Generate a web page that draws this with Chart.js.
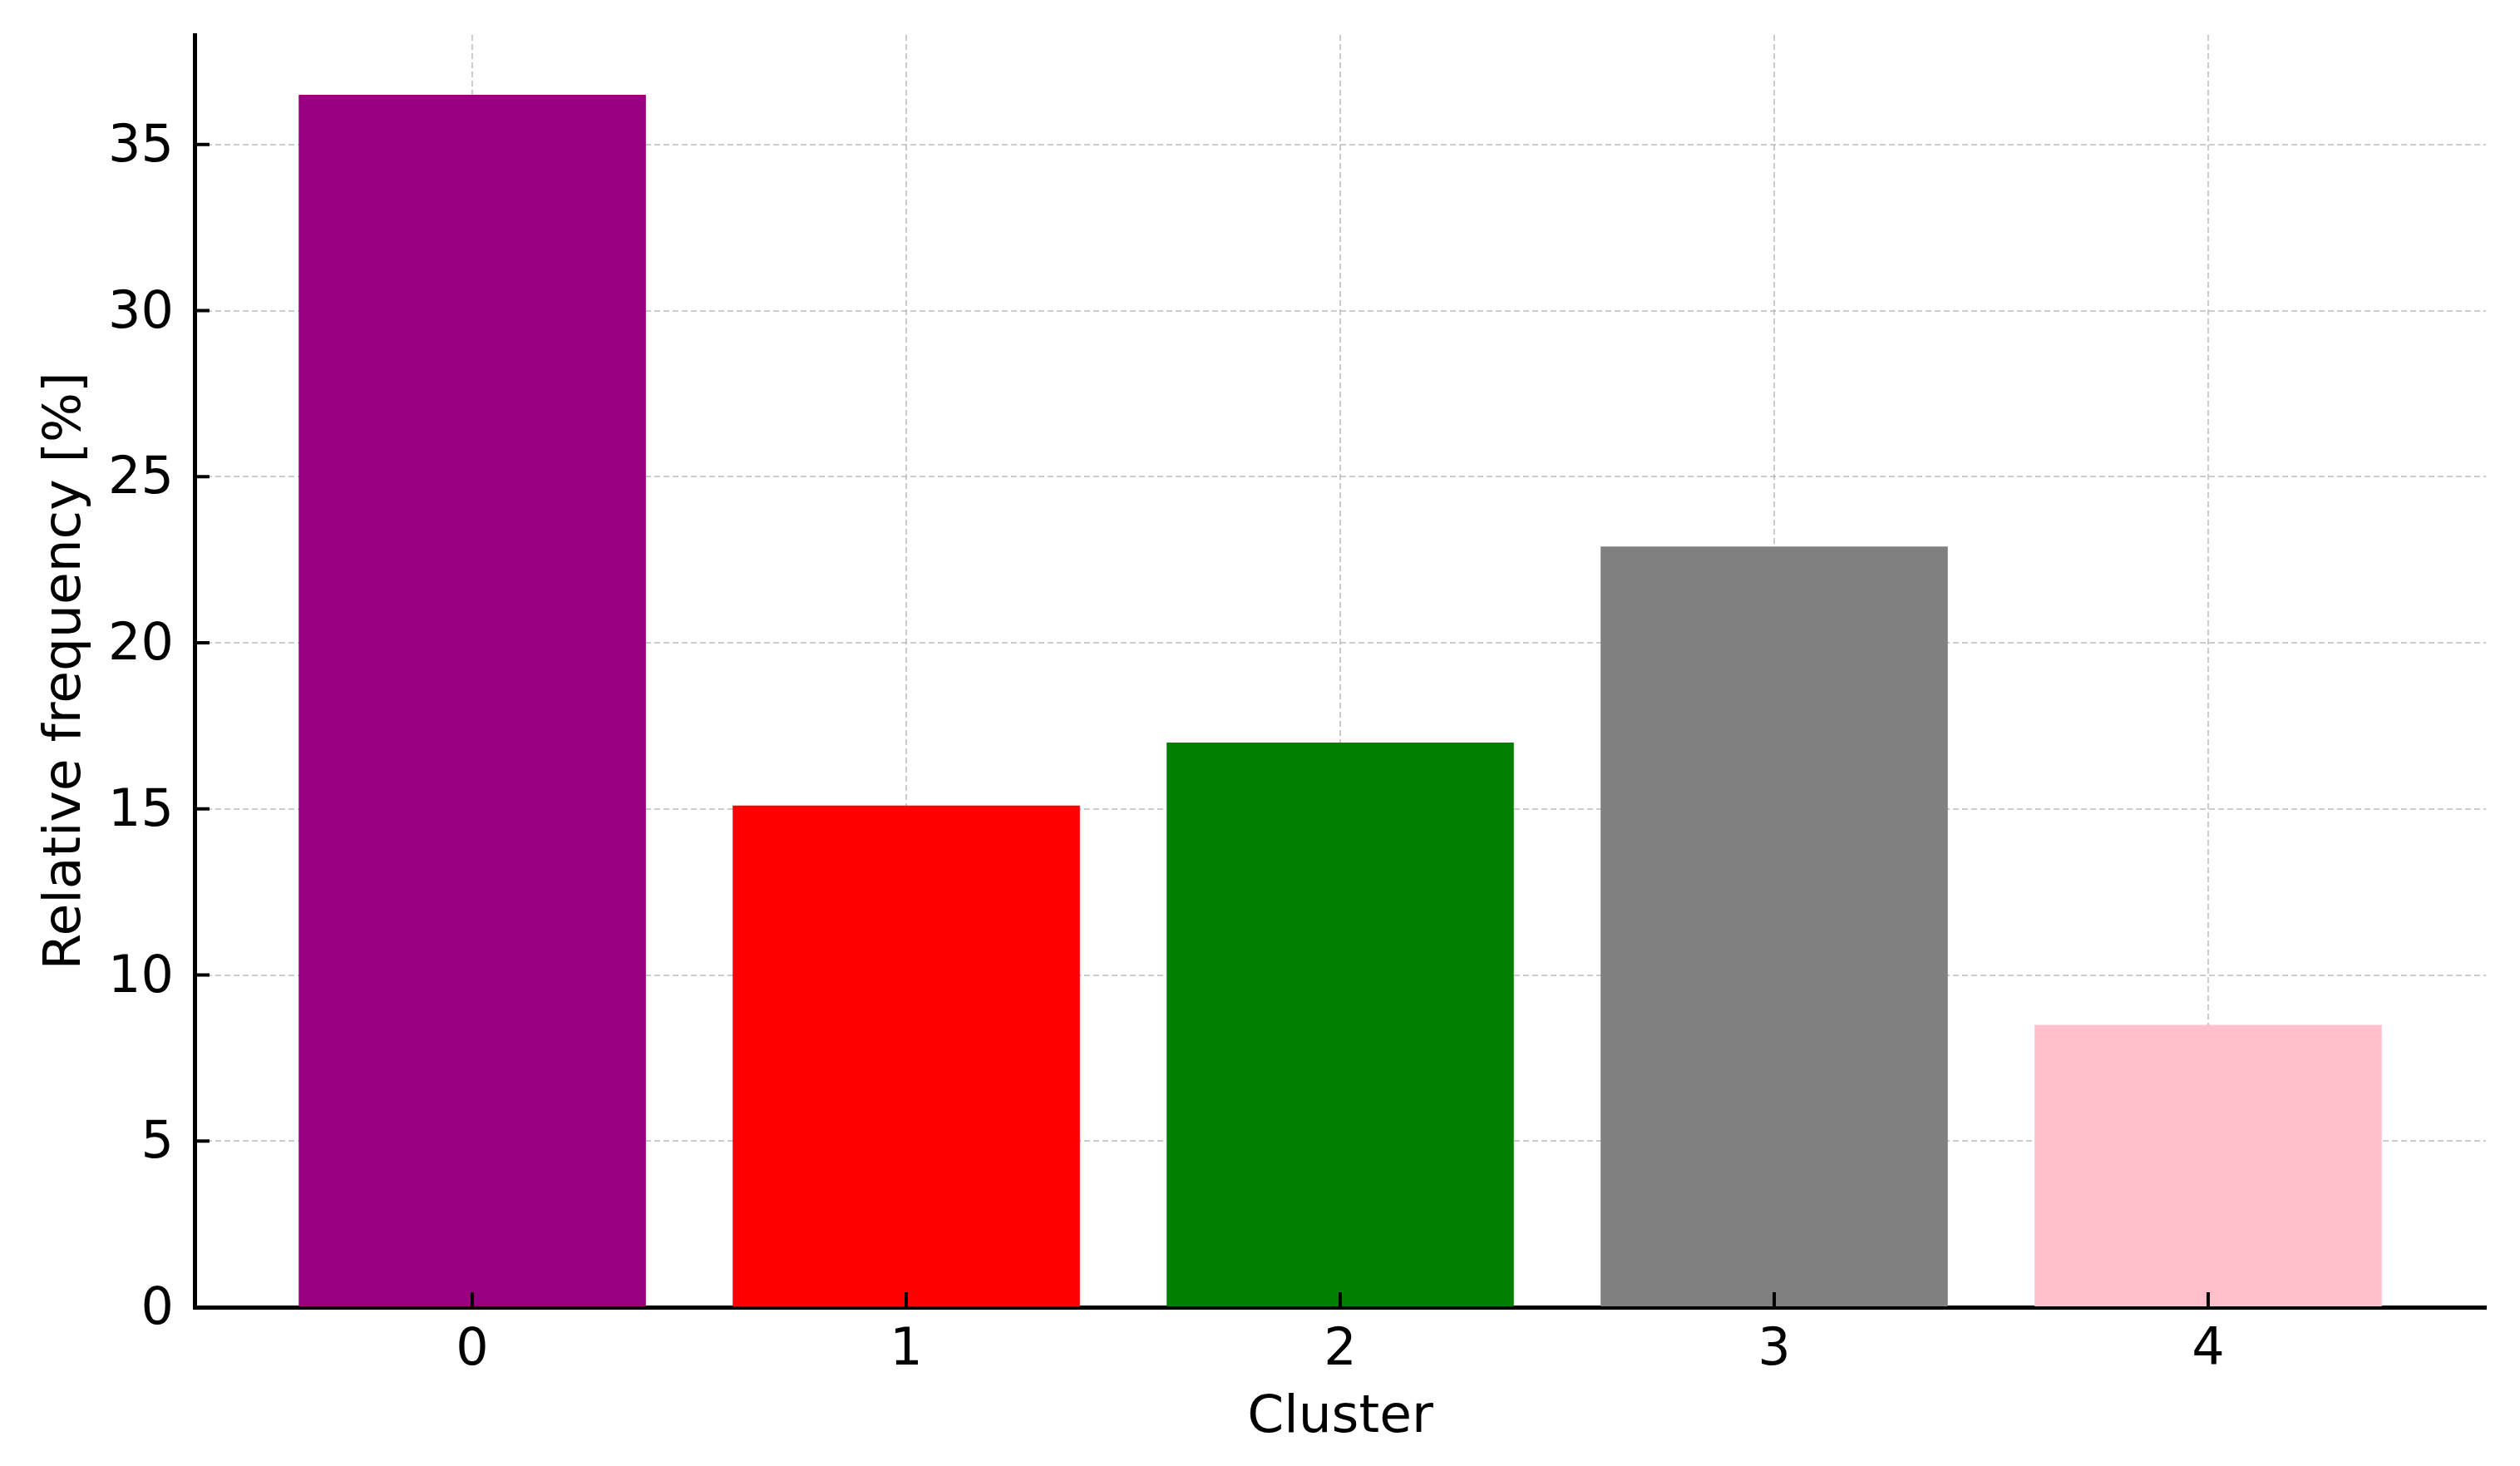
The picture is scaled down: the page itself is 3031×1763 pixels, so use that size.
<!DOCTYPE html>
<html><head><meta charset="utf-8">
<script src="https://cdn.jsdelivr.net/npm/chart.js@4.4.1/dist/chart.umd.min.js"></script>
<style>html,body{margin:0;padding:0;background:#fff;} #wrap{width:3031px;height:1763px;position:relative;}</style>
</head><body><div id="wrap"><canvas id="c"></canvas></div>
<script>
const categories = ['0', '1', '2', '3', '4'];
const frequencies = [36.5, 15.1, 17.0, 22.9, 8.5];
const barColors = ['#980080', '#ff0000', '#008000', '#808080', '#ffc0cb'];
const yTickValues = [0, 5, 10, 15, 20, 25, 30, 35];
const xTitle = 'Cluster';
const yTitle = 'Relative frequency [%]';

const FONT = "'DejaVu Sans', sans-serif";

const inwardTicks = {
  id: 'inwardTicks',
  afterDraw(chart) {
    const {ctx, chartArea: a, scales: {x, y}} = chart;
    ctx.save();
    ctx.strokeStyle = '#000';
    ctx.lineWidth = 4;
    ctx.beginPath();
    y.ticks.forEach(t => { const py = y.getPixelForValue(t.value); ctx.moveTo(a.left, py); ctx.lineTo(a.left + 18, py); });
    x.ticks.forEach(t => { const px = x.getPixelForValue(t.value); ctx.moveTo(px, a.bottom); ctx.lineTo(px, a.bottom - 18); });
    ctx.stroke();
    ctx.restore();
  }
};

const gridStyle = { color: 'rgba(176,176,176,0.65)', lineWidth: 2, drawTicks: false, offset: false };

new Chart(document.getElementById('c'), {
  type: 'bar',
  data: {
    datasets: [{
      data: categories.map((c, i) => ({x: i, y: frequencies[i]})),
      backgroundColor: barColors,
      borderWidth: 0,
      barPercentage: 0.8,
      categoryPercentage: 1.0
    }]
  },
  options: {
    responsive: true,
    maintainAspectRatio: false,
    animation: false,
    layout: { padding: { left: 0, top: 42, right: 41, bottom: 0 } },
    plugins: { legend: { display: false }, tooltip: { enabled: false } },
    scales: {
      x: {
        type: 'linear',
        offset: false,
        min: -0.64, max: 4.64,
        z: 1,
        afterBuildTicks: s => { s.ticks = categories.map((c, i) => ({value: i})); },
        afterFit: s => { s.height = 191; s.paddingLeft = 0; s.paddingRight = 0; },
        ticks: { font: { family: FONT, size: 62 }, color: '#000', padding: 16, autoSkip: false, maxRotation: 0,
                 callback: v => categories[v] },
        grid: gridStyle,
        border: { color: '#000', width: 5, dash: [7, 4] },
        title: { display: true, text: xTitle, color: '#000', font: { family: FONT, size: 63 }, padding: { top: 0, bottom: 20 } }
      },
      y: {
        min: 0, max: 38.3,
        z: 1,
        afterBuildTicks: s => { s.ticks = yTickValues.map(v => ({value: v})); },
        afterFit: s => { s.width = 234; s.paddingTop = 0; s.paddingBottom = 0; },
        ticks: { font: { family: FONT, size: 62 }, color: '#000', padding: 25, autoSkip: false, labelOffset: 4 },
        grid: gridStyle,
        border: { color: '#000', width: 5, dash: [7, 4] },
        title: { display: true, text: yTitle, color: '#000', font: { family: FONT, size: 63 }, padding: { top: 42, bottom: 0 } }
      }
    }
  },
  plugins: [inwardTicks]
});
</script></body></html>
